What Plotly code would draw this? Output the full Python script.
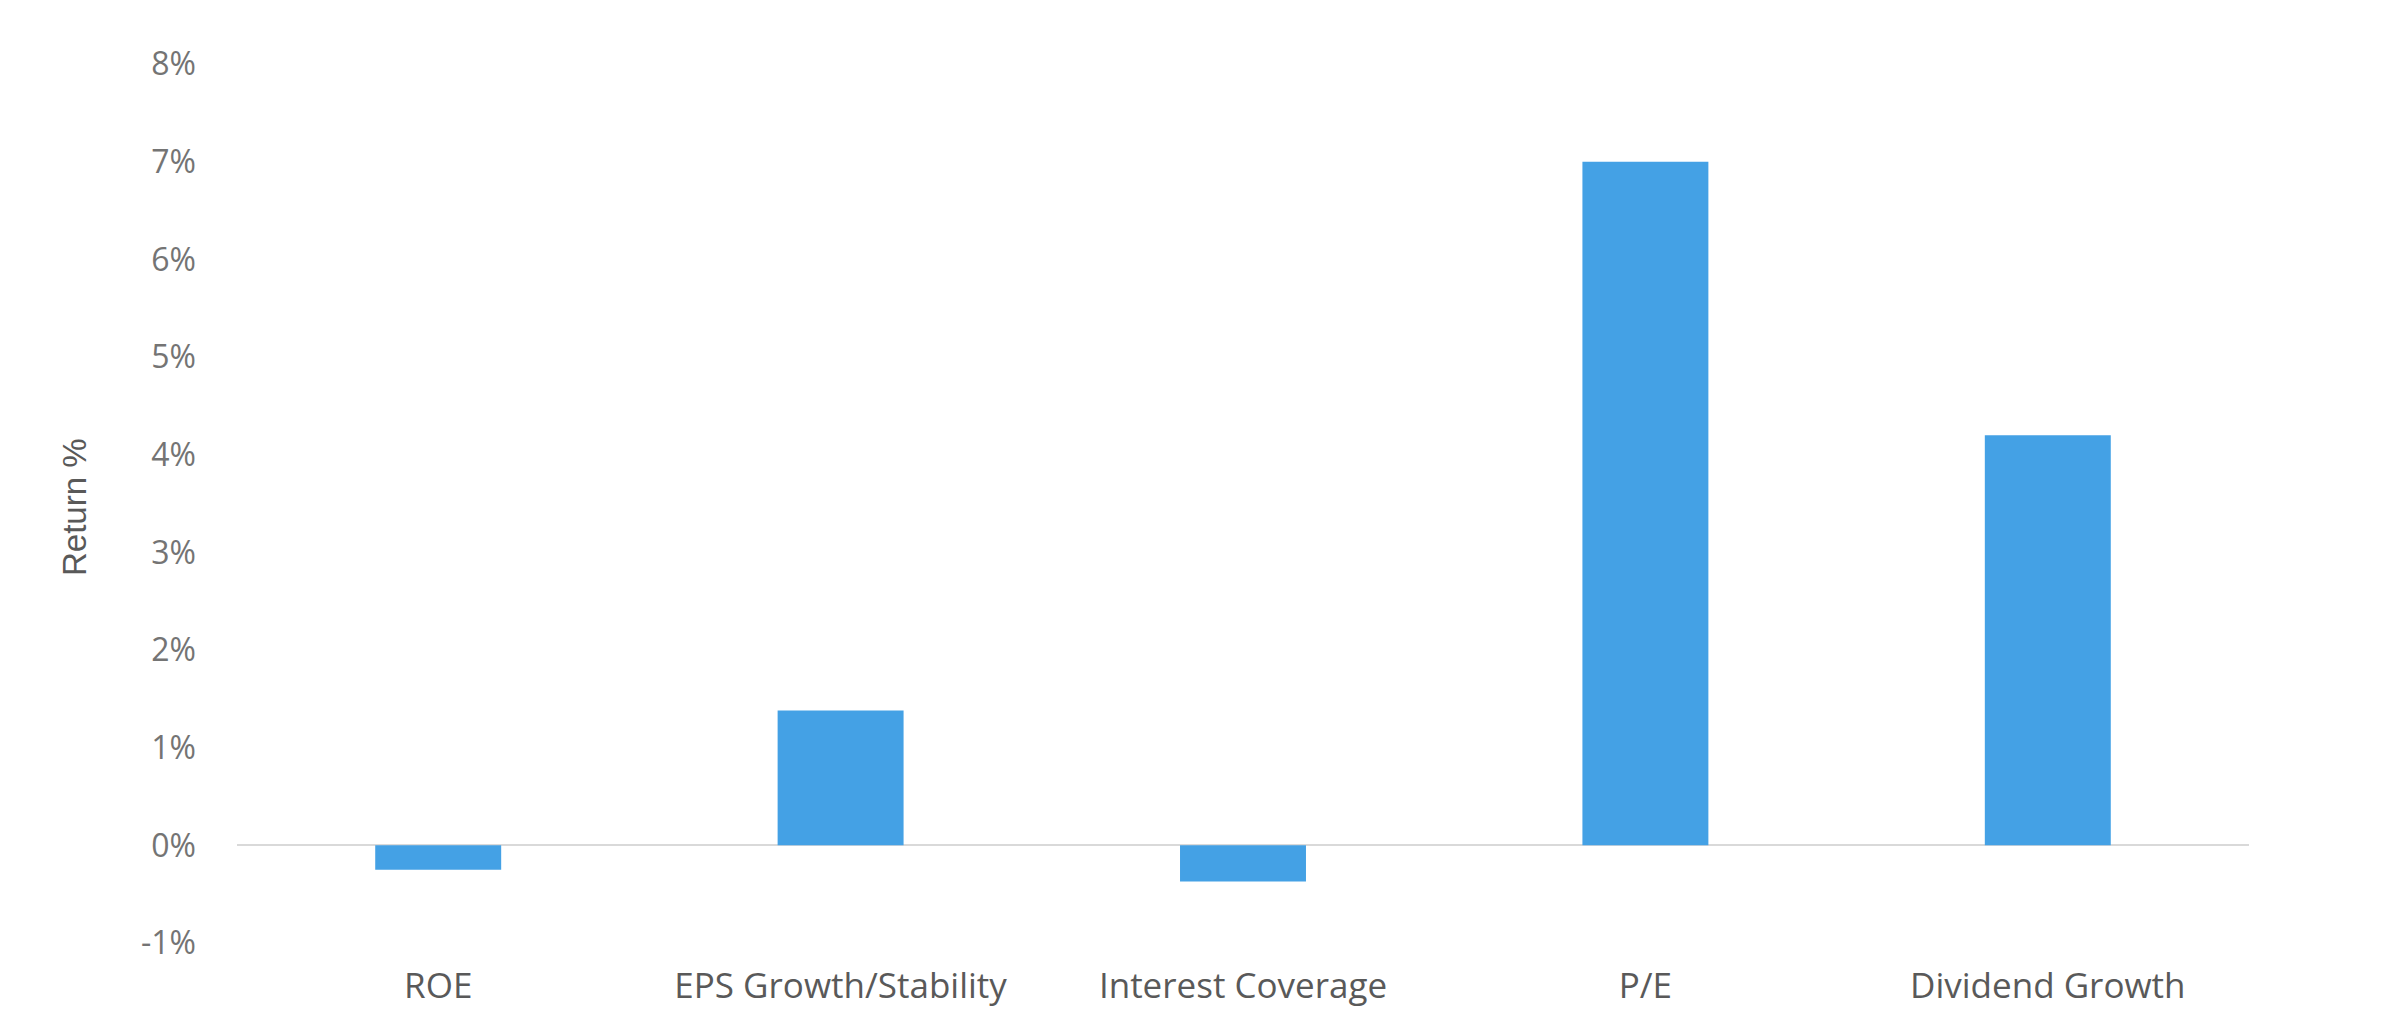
import plotly.graph_objects as go

categories = ["ROE", "EPS Growth/Stability", "Interest Coverage", "P/E", "Dividend Growth"]
returns_pct = [-0.25, 1.38, -0.37, 7.0, 4.2]
y_tick_vals = [-1, 0, 1, 2, 3, 4, 5, 6, 7, 8]
y_tick_text = ["-1%", "0%", "1%", "2%", "3%", "4%", "5%", "6%", "7%", "8%"]

W, H = 2400, 1021
L, R, T, B = 237, 151, 64, 78

fig = go.Figure(
    go.Bar(
        x=categories,
        y=returns_pct,
        marker=dict(color="#44A1E5", line=dict(width=0)),
    )
)

fig.update_layout(
    width=W,
    height=H,
    margin=dict(l=L, r=R, t=T, b=B),
    paper_bgcolor="white",
    plot_bgcolor="white",
    bargap=0.687,
    showlegend=False,
    font=dict(family="Open Sans", color="#606060"),
)

fig.update_xaxes(
    showgrid=False,
    showline=False,
    ticks="",
    tickfont=dict(size=35, family="Open Sans", color="#595959"),
    ticklabelstandoff=19,
)

fig.update_yaxes(
    range=[-1, 8],
    tickvals=y_tick_vals,
    ticktext=y_tick_text,
    showgrid=False,
    showline=False,
    zeroline=True,
    zerolinecolor="#D9D9D9",
    zerolinewidth=2,
    tickfont=dict(size=32, family="Open Sans", color="#747474"),
    ticklabelstandoff=40,
)

fig.add_annotation(
    text="Return %",
    xref="paper", yref="paper",
    x=(74 - L) / (W - L - R), y=(H - B - 507) / (H - T - B),
    xanchor="center", yanchor="middle",
    showarrow=False, textangle=-90,
    font=dict(size=33, family="Liberation Sans", color="#595959"),
)

fig.write_html(
    "out.html",
    config={"displayModeBar": False},
    post_script="document.body.style.margin='0px';",
)
